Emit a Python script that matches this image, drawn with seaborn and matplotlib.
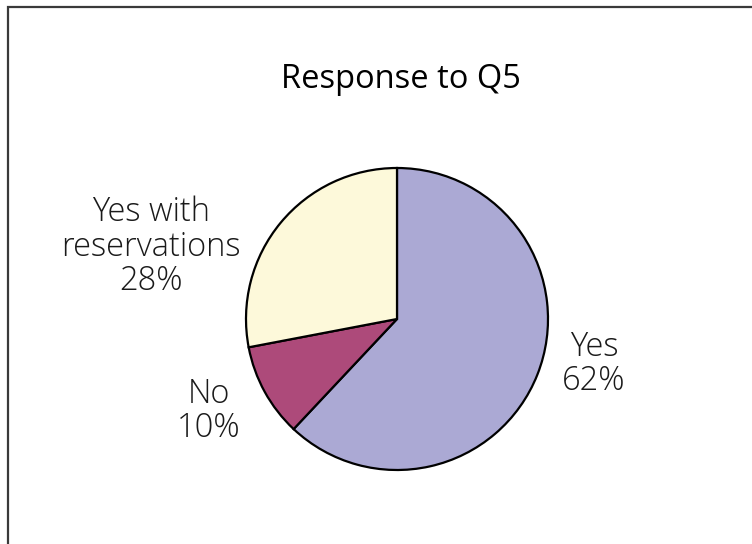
import matplotlib
matplotlib.use("Agg")
import matplotlib.pyplot as plt
from matplotlib.patches import Rectangle
import seaborn as sns

# Survey responses to question 5
categories = ["Yes", "No", "Yes with\nreservations"]
shares = [62, 10, 28]
colors = ["#aba9d4", "#ad4a7a", "#fdf9da"]
pct_labels = ["62%", "10%", "28%"]

sns.set_theme(style="white")
plt.rcParams["font.family"] = ["Open Sans", "DejaVu Sans"]

W, H = 752, 544
fig = plt.figure(figsize=(W / 100, H / 100), dpi=100)
fig.patch.set_facecolor("white")

# pie centred at (397, 319) px with radius 151 px
cx, cy, r = 397, 319, 151
ax = fig.add_axes([(cx - r) / W, (H - cy - r) / H, 2 * r / W, 2 * r / H])
ax.pie(
    shares,
    colors=colors,
    startangle=90,
    counterclock=False,
    radius=1,
    wedgeprops=dict(edgecolor="black", linewidth=1.6),
)
ax.set_xlim(-1, 1)
ax.set_ylim(-1, 1)
ax.set_aspect("auto")
ax.axis("off")

# label anchors (baseline of the percentage line) in pixel coordinates
label_px = [(594, 390), (209, 437), (151, 290)]
for cat, pct, (px, py) in zip(categories, pct_labels, label_px):
    ax.text((px - cx) / r, (cy - py) / r, f"{cat}\n{pct}", ha="center",
            va="baseline", fontsize=23.5, fontweight="light", color="#1a1a1a",
            linespacing=1.03, clip_on=False)

fig.text(401 / W, 1 - 88 / H, "Response to Q5", ha="center", va="baseline",
         fontsize=23.5, color="black")

# outer frame (only top and left edges fall inside the canvas)
fig.patches.append(Rectangle((7.5 / W, -0.1), 1.2, 1.1 - 7.5 / H,
                             transform=fig.transFigure, fill=False,
                             edgecolor="#3a3a3a", linewidth=1.6))

fig.savefig("out.png", dpi=100, facecolor="white")
